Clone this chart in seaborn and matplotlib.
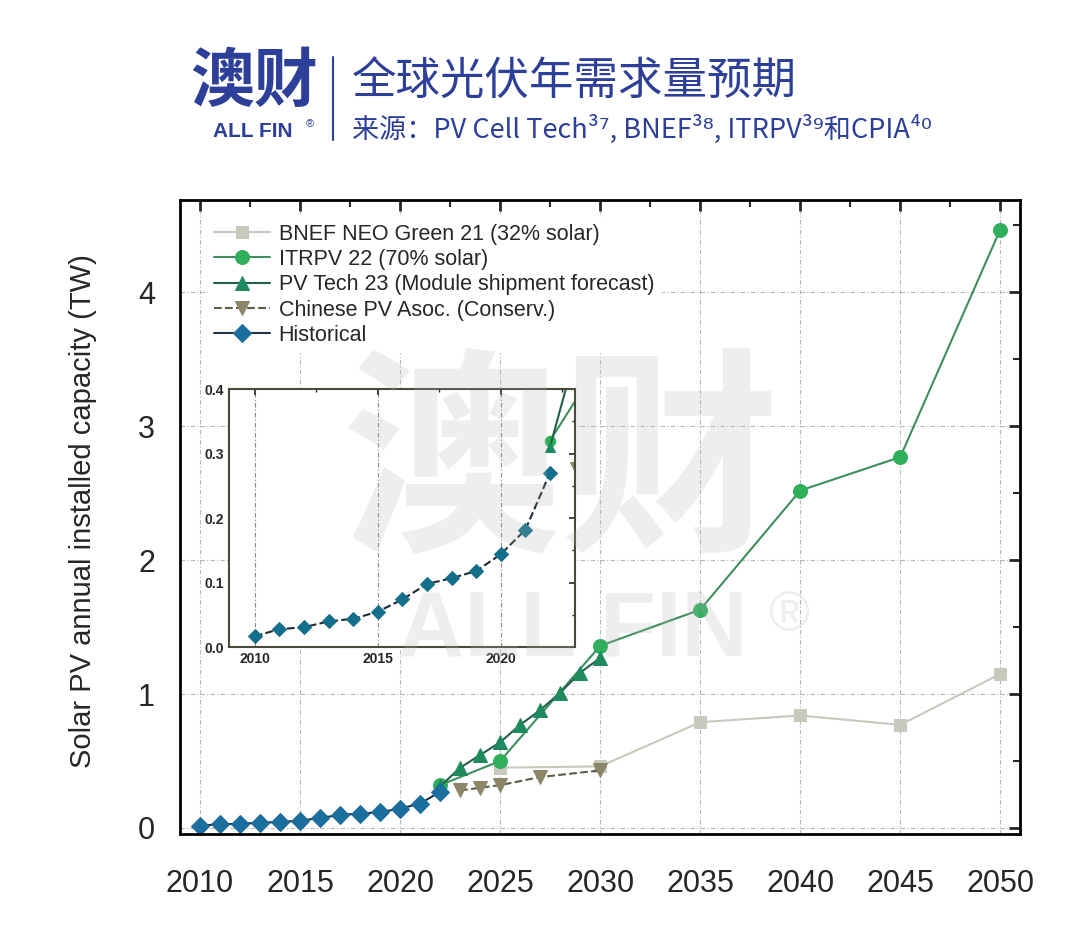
import numpy as np
import pandas as pd
import matplotlib
matplotlib.use("Agg")
import matplotlib.pyplot as plt
from matplotlib.ticker import MultipleLocator
import seaborn as sns

# historical annual installs (TW)
hist_years = list(range(2010, 2023))
hist_vals = [0.017, 0.028, 0.031, 0.040, 0.044, 0.055, 0.074, 0.098, 0.107, 0.118, 0.144, 0.182, 0.27]

bnef_years = [2025, 2030, 2035, 2040, 2045, 2050]
bnef_vals = [0.45, 0.46, 0.79, 0.84, 0.77, 1.15]

itrpv_years = [2022, 2025, 2030, 2035, 2040, 2045, 2050]
itrpv_vals = [0.32, 0.50, 1.36, 1.63, 2.52, 2.77, 4.47]

pvtech_years = list(range(2022, 2031))
pvtech_vals = [0.31, 0.45, 0.545, 0.64, 0.77, 0.88, 1.01, 1.16, 1.27]

cpia_years = [2023, 2024, 2025, 2027, 2030]
cpia_vals = [0.28, 0.30, 0.32, 0.38, 0.43]

labels = ["BNEF NEO Green 21 (32% solar)", "ITRPV 22 (70% solar)",
          "PV Tech 23 (Module shipment forecast)", "Chinese PV Asoc. (Conserv.)",
          "Historical"]

sns.set_theme(style="white")
plt.rcParams["font.family"] = ["Liberation Sans", "DejaVu Sans"]
cjk = ["Noto Sans CJK SC", "DejaVu Sans"]

series = [
    (bnef_years, bnef_vals, labels[0], dict(color="#c9c8bd", marker="s", markersize=8,
                                             mec="#c9c8bd", linewidth=1.5, linestyle="-")),
    (itrpv_years, itrpv_vals, labels[1], dict(color="#3f8f5e", marker="o", markersize=10,
                                               mfc="#2fae5c", mec="#2fae5c", linewidth=1.5, linestyle="-")),
    (pvtech_years, pvtech_vals, labels[2], dict(color="#22604a", marker="^", markersize=10,
                                                 mfc="#1f8a5e", mec="#1f8a5e", linewidth=1.5, linestyle="-")),
    (cpia_years, cpia_vals, labels[3], dict(color="#5f5b48", marker="v", markersize=10,
                                             mfc="#8b8668", mec="#8b8668", linewidth=1.5, linestyle="--")),
    (hist_years, hist_vals, labels[4], dict(color="#1c3344", marker="D", markersize=9,
                                             mfc="#1b6e9d", mec="#1b6e9d", linewidth=1.5, linestyle="-")),
]

fig = plt.figure(figsize=(10.8, 9.49), dpi=100)
ax = fig.add_axes([0.1667, 0.1212, 0.778, 0.668])

for yrs, vals, lab, kw in series:
    sns.lineplot(x=yrs, y=vals, ax=ax, label=lab, **kw)

ax.set_xlim(2009, 2051)
ax.set_ylim(-0.045, 4.69)
ax.xaxis.set_major_locator(MultipleLocator(5))
ax.xaxis.set_minor_locator(MultipleLocator(2.5))
ax.yaxis.set_major_locator(MultipleLocator(1))
ax.yaxis.set_minor_locator(MultipleLocator(0.5))
ax.tick_params(which="both", direction="in", top=True, right=True, labelsize=22)
ax.tick_params(axis="x", pad=25)
ax.tick_params(axis="y", pad=18)
ax.tick_params(which="major", length=8, width=2)
ax.tick_params(which="minor", length=5, width=1.5)
ax.grid(True, which="major", color="#9a9a9a", linestyle=(0, (4, 2, 1, 2)), linewidth=0.8, alpha=0.7)
for s in ax.spines.values():
    s.set_color("black")
    s.set_linewidth(2)
ax.set_ylabel("Solar PV annual installed capacity (TW)", fontsize=21)
ax.yaxis.set_label_coords(-0.099, 0.51)

leg = ax.legend(loc="upper left", bbox_to_anchor=(0.02, 0.99), fontsize=15.5, frameon=True,
                framealpha=1, edgecolor="white", facecolor="white", handlelength=2.6,
                handletextpad=0.4, labelspacing=0.2, borderpad=0.3, fancybox=False)

# inset with historical detail
ins = fig.add_axes([0.212, 0.318, 0.320, 0.272])
for yrs, vals, lab, kw in series:
    kw2 = dict(kw)
    kw2["markersize"] = kw["markersize"] * 0.75
    if lab == labels[4]:
        kw2["color"] = "#1d2b35"
        kw2["linestyle"] = "--"
        kw2["mfc"] = "#14708a"
        kw2["mec"] = "#14708a"
    sns.lineplot(x=yrs, y=vals, ax=ins, legend=False, **kw2)
ins.set_xlim(2008.95, 2023)
ins.set_ylim(0, 0.4)
ins.xaxis.set_major_locator(MultipleLocator(5))
ins.xaxis.set_minor_locator(MultipleLocator(2.5))
ins.yaxis.set_major_locator(MultipleLocator(0.1))
ins.yaxis.set_minor_locator(MultipleLocator(0.05))
ins.tick_params(which="both", direction="in", top=True, right=True, labelsize=10)
ins.tick_params(which="major", length=4, width=1.2)
ins.tick_params(which="minor", length=2.5, width=1)
for t in ins.get_xticklabels() + ins.get_yticklabels():
    t.set_fontweight("bold")
ins.grid(True, axis="x", which="major", color="#8a8a8a", linestyle=(0, (4, 2, 1, 2)), linewidth=0.8)
for s in ins.spines.values():
    s.set_color("#4a4a3a")
    s.set_linewidth(1.5)
ins.set_xlabel("")
ins.set_ylabel("")

# header
blue = "#2d3f98"
fig.text(0.176, 0.913, "澳财", family=cjk, fontsize=46, fontweight="bold", color=blue, va="center")
fig.text(0.197, 0.861, "ALL FIN", fontsize=15, fontweight="bold", color=blue, va="center")
fig.text(0.283, 0.869, "®", fontsize=8, color=blue, va="center")
fig.add_artist(plt.Line2D([0.3085, 0.3085], [0.852, 0.94], color=blue, linewidth=1.5))
fig.text(0.326, 0.915, "全球光伏年需求量预期", family=cjk, fontsize=32, color=blue, va="center")
fig.text(0.326, 0.864, "来源：PV Cell Tech³⁷, BNEF³⁸, ITRPV³⁹和CPIA⁴⁰", family=cjk, fontsize=19.5,
         color=blue, va="center")

# watermark
fig.text(0.52, 0.505, "澳财", family=cjk, fontsize=158, fontweight="bold", color="#b5b5b5",
         alpha=0.22, ha="center", va="center")
fig.text(0.53, 0.335, "ALL FIN", fontsize=66, fontweight="bold", color="#b5b5b5",
         alpha=0.22, ha="center", va="center")
fig.text(0.73, 0.35, "®", fontsize=40, color="#b5b5b5", alpha=0.22, ha="center", va="center")

fig.savefig("out.png", dpi=100)
